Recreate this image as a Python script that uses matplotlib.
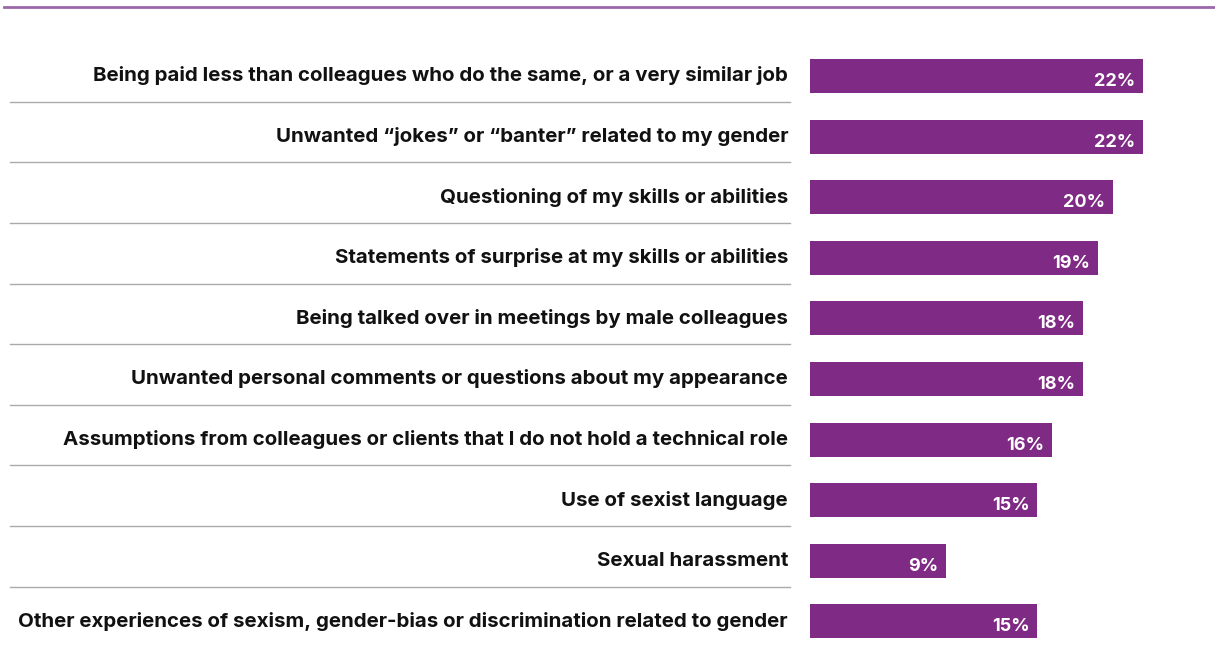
import matplotlib.pyplot as plt

labels = [
    "Being paid less than colleagues who do the same, or a very similar job",
    "Unwanted \u201cjokes\u201d or \u201cbanter\u201d related to my gender",
    "Questioning of my skills or abilities",
    "Statements of surprise at my skills or abilities",
    "Being talked over in meetings by male colleagues",
    "Unwanted personal comments or questions about my appearance",
    "Assumptions from colleagues or clients that I do not hold a technical role",
    "Use of sexist language",
    "Sexual harassment",
    "Other experiences of sexism, gender-bias or discrimination related to gender",
]
values = [22, 22, 20, 19, 18, 18, 16, 15, 9, 15]

W, H = 1215, 648
px_per_pct = 15.14
bar_x0 = 810
row0, row_step = 76, 60.6

fig = plt.figure(figsize=(W / 100, H / 100), dpi=100)
ax = fig.add_axes([0, 0, 1, 1])
ax.set_xlim(-bar_x0 / px_per_pct, (W - bar_x0) / px_per_pct)
ax.set_ylim((H - row0) / row_step, -row0 / row_step)
ax.axis("off")

def px(x):
    return (x - bar_x0) / px_per_pct

pos = list(range(len(values)))
ax.barh(pos, values, height=0.56, color="#7f2a84")

for i, (lab, v) in enumerate(zip(labels, values)):
    ax.text(px(788), i + 0.09, lab, ha="right", va="baseline", fontsize=14.75,
            fontweight="bold", color="#111111", family="Inter")
    ax.text(v - 0.5, i + 0.165, f"{v}%", ha="right", va="baseline",
            fontsize=13, fontweight="bold", color="white", family="Inter")

# grey separators between the rows
for i in range(len(values) - 1):
    y = i + 0.425
    ax.plot([px(10), px(790)], [y, y], color="#aaaaaa", lw=1)

# purple rule across the top
ax.plot([px(4), px(W)], [-(row0 - 7) / row_step] * 2, color="#9a68aa", lw=2)

fig.savefig("out.png", dpi=100)
